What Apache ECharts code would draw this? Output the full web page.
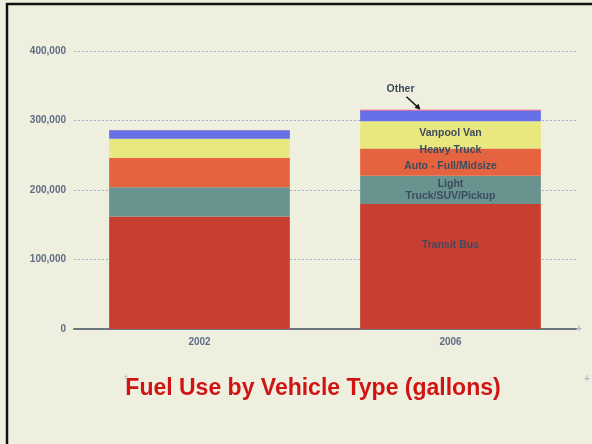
<!DOCTYPE html>
<html>
<head>
<meta charset="utf-8">
<script src="https://cdn.jsdelivr.net/npm/echarts@6/dist/echarts.min.js"></script>
<style>
  html, body { margin: 0; padding: 0; background: #efefdf; }
  #chart { width: 592px; height: 444px; }
</style>
</head>
<body>
<div id="chart"></div>
<script>
// Fuel use (gallons) per vehicle type, stacked by year
const years = ['2002', '2006'];
const transitBus = [162000, 180000];
const lightTruck = [42000, 40500];
const autoFull = [42300, 39300];
const heavyTruck = [27400, 39300];
const vanpoolVan = [12400, 15400];
const other = [300, 1000];

const yTicks = [0, 100000, 200000, 300000, 400000];

const labelColor = '#3e4b5e';
const labelFont = { color: labelColor, fontFamily: 'Liberation Sans, Arial, sans-serif', fontWeight: 'bold', fontSize: 10.5 };

// Segment label: drawn on the 2006 bar only
function seg(name, values, color, offsetY) {
  return {
    name: name,
    type: 'bar',
    stack: 'fuel',
    barWidth: '72%',
    itemStyle: { color: color },
    data: values.map((v, i) => ({
      value: v,
      label: i === 1 && offsetY !== null ? {
        show: true, position: 'inside', offset: [0, offsetY],
        formatter: name, ...labelFont, lineHeight: 12
      } : { show: false }
    }))
  };
}

const chart = echarts.init(document.getElementById('chart'));
chart.setOption({
  backgroundColor: '#efefdf',
  animation: false,
  title: {
    text: 'Fuel Use by Vehicle Type (gallons)',
    left: 308, top: 372, textAlign: 'center',
    textStyle: { color: '#d01414', fontSize: 23, fontWeight: 'bold', fontFamily: 'Liberation Sans, Arial, sans-serif' }
  },
  grid: { left: 74, right: 16, top: 51, bottom: 115 },
  xAxis: {
    type: 'category',
    data: years,
    axisLine: { lineStyle: { color: '#6b7682', width: 2 } },
    axisTick: { show: false },
    axisLabel: { color: '#5f6d84', fontWeight: 'bold', fontSize: 10, margin: 8, fontFamily: 'Liberation Sans, Arial, sans-serif' }
  },
  yAxis: {
    type: 'value',
    min: yTicks[0], max: yTicks[yTicks.length - 1], interval: 100000,
    axisLine: { show: false },
    axisTick: { show: false },
    axisLabel: {
      color: '#5f6d84', fontWeight: 'bold', fontSize: 10, margin: 8,
      fontFamily: 'Liberation Sans, Arial, sans-serif',
      formatter: v => v.toLocaleString('en-US')
    },
    splitLine: { lineStyle: { color: '#a8b0c4', type: [2, 2], width: 1 } }
  },
  series: [
    seg('Transit Bus', transitBus, '#c83f32', -21),
    seg('Light\nTruck/SUV/Pickup', lightTruck, '#68938f', 0),
    seg('Auto - Full/Midsize', autoFull, '#e6633f', 4),
    seg('Heavy Truck', heavyTruck, '#e8e87f', 15),
    seg('Vanpool Van', vanpoolVan, '#6670e6', 17),
    seg('Other', other, '#e0407a', null)
  ]
});

// "Other" callout with an arrow pointing at the top of the 2006 stack
const total2006 = transitBus[1] + lightTruck[1] + autoFull[1] + heavyTruck[1] + vanpoolVan[1] + other[1];
const tip = chart.convertToPixel({ gridIndex: 0 }, [1, total2006]);
const tipX = tip[0] - 30, tipY = tip[1];
chart.setOption({
  graphic: [
    {
      type: 'rect', shape: { x: 7, y: 4, width: 600, height: 460 },
      style: { fill: 'none', stroke: '#111', lineWidth: 2.5 }, silent: true, z: 100
    },
    {
      type: 'text', x: tipX - 20, y: tipY - 21,
      style: { text: 'Other', fill: labelColor, font: 'bold 10.5px "Liberation Sans", Arial, sans-serif', textAlign: 'center', textVerticalAlign: 'middle' }
    },
    {
      type: 'line', shape: { x1: tipX - 14, y1: tipY - 13, x2: tipX - 1, y2: tipY - 1 },
      style: { stroke: '#111', lineWidth: 1.5 }
    },
    {
      type: 'polygon', shape: { points: [[tipX, tipY], [tipX - 6, tipY - 2], [tipX - 2, tipY - 6]] },
      style: { fill: '#111' }
    },
    { type: 'text', x: 579, y: 329, style: { text: '+', fill: '#b0b6c4', font: 'bold 10px sans-serif', textAlign: 'center', textVerticalAlign: 'middle' } },
    { type: 'text', x: 587, y: 379, style: { text: '+', fill: '#b0b6c4', font: 'bold 10px sans-serif', textAlign: 'center', textVerticalAlign: 'middle' } },
    { type: 'text', x: 126, y: 378, style: { text: '+', fill: '#b0b6c4', font: '9px sans-serif', textAlign: 'center', textVerticalAlign: 'middle' } }
  ]
});
</script>
</body>
</html>
